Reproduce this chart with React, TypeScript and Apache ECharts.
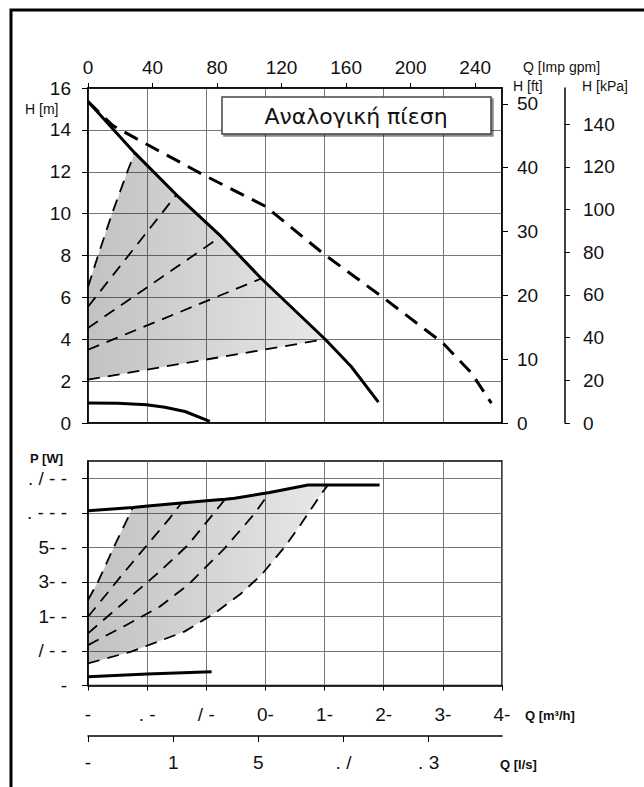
import React, { useEffect, useRef } from "react";
import * as echarts from "echarts";

const qMaxM3h = 70;
const hMaxM = 16;
const pMaxW = 1300;
const qMaxGpm = qMaxM3h * 3.6662;
const hMaxFt = hMaxM * 3.28084;
const hMaxKpa = hMaxM * 9.80665;
const qMaxLs = qMaxM3h / 3.6;

const hTicks = [0, 2, 4, 6, 8, 10, 12, 14, 16];
const gpmTicks = [0, 40, 80, 120, 160, 200, 240];
const ftTicks = [0, 10, 20, 30, 40, 50];
const kpaTicks = [0, 20, 40, 60, 80, 100, 120, 140];
const m3hTicks = [0, 10, 20, 30, 40, 50, 60, 70];
const m3hLabels = ["-", ". -", "/ -", "0-", "1-", "2-", "3-", "4-"];
const lsTicks = [0, 4, 8, 12, 16];
const lsLabels = ["-", "1", "5", ". /", ". 3"];
const pTicks = [0, 200, 400, 600, 800, 1000, 1200];
const pLabels = ["-", "/ - -", "1- -", "3- -", "5- -", ". - - -", ". / - -"];

// H(Q): [Q m3/h, H m]
const hMaxSolid = [
  [0, 15.35], [7.9, 12.9], [14.94, 10.9], [22.5, 8.91], [29.3, 6.9],
  [40.1, 4.0], [44.5, 2.7], [49.1, 1.0],
];
const hMaxDashed = [
  [0, 15.35], [4.2, 14.2], [10, 13.3], [20, 11.78], [30, 10.35], [40, 8.04],
  [50, 5.97], [60, 3.82], [64.8, 2.4], [68.2, 0.95],
];
const hMin = [
  [0, 0.95], [5, 0.94], [9.9, 0.87], [13, 0.75], [16.4, 0.55], [20.6, 0.08],
];
const hProp1 = [[0, 6.5], [1.7, 8.0], [4.06, 10.0], [6.65, 12.0], [7.9, 12.9]];
const hProp2 = [[0, 5.55], [14.94, 10.9]];
const hProp3 = [[0, 4.54], [22.5, 8.91]];
const hProp4 = [[0, 3.5], [29.3, 6.9]];
const hProp5 = [[0, 2.07], [40.1, 4.0]];

// P(Q): [Q m3/h, P W]
const pUpper = [
  [0, 1012], [7.6, 1031], [10.1, 1039], [15.8, 1057], [20, 1070], [23.2, 1079],
  [24.8, 1084], [29.9, 1113], [30.7, 1118], [37.2, 1161], [40.6, 1161], [49.3, 1161],
];
const pLower = [[0, 51], [10, 66], [20.9, 80]];
const pProp1 = [[0, 495], [1.7, 601], [4.4, 804], [7.6, 1031]];
const pProp2 = [[0, 398], [6.2, 659], [13.8, 968], [15.8, 1057]];
const pProp3 = [[0, 302], [5.9, 476], [12.1, 659], [16.9, 813], [23.2, 1079]];
const pProp4 = [[0, 234], [6.2, 345], [12.1, 456], [16.9, 582], [23.1, 794], [28.2, 997], [30.7, 1118]];
const pProp5 = [
  [0, 128], [7.3, 196], [16.3, 312], [21.4, 418], [25.9, 533], [29.3, 640],
  [33.3, 804], [36.1, 939], [39.5, 1113], [40.6, 1161],
];

const between = (arr: number[][], a: number, b: number) =>
  arr.filter((p) => p[0] >= a && p[0] <= b);

const polyTop = [
  ...hProp5,
  ...between(hMaxSolid, 7.9, 40.1).slice().reverse(),
  ...hProp1.slice().reverse(),
];
const polyBottom = [
  ...pProp5,
  ...between(pUpper, 7.6, 40.6).slice().reverse(),
  ...pProp1.slice().reverse(),
];

const FONT = "'Liberation Sans', Arial, sans-serif";
const GRID = "#777";

const fillGrad = () =>
  new echarts.graphic.LinearGradient(0, 0, 1, 0, [
    { offset: 0, color: "rgba(0,0,0,0.24)" },
    { offset: 1, color: "rgba(0,0,0,0.09)" },
  ]);

const lbl = (extra: any = {}) => ({
  fontFamily: FONT,
  fontSize: 19,
  color: "#111",
  ...extra,
});

const blackLine = (show = true) => ({
  show,
  onZero: false,
  lineStyle: { color: "#000", width: 1.5 },
});

function line(data: number[][], xi: number, yi: number, width: number, type: any) {
  return {
    type: "line", xAxisIndex: xi, yAxisIndex: yi, data,
    symbol: "none", showSymbol: false, silent: true, z: 5,
    lineStyle: { color: "#000", width, type },
  };
}

function poly(points: number[][], xi: number, yi: number) {
  return {
    type: "custom", xAxisIndex: xi, yAxisIndex: yi, data: [[0, 0]], silent: true, z: 1,
    renderItem: (_p: any, api: any) => ({
      type: "polygon",
      shape: { points: points.map((p) => api.coord(p)) },
      style: { fill: fillGrad(), stroke: "none" },
    }),
  };
}

const thinDash = [12, 8];
const thickDash = [15, 9];

const nameText = (text: string, x: number, y: number, bold = false) => ({
  type: "text", z: 101, silent: true, x, y,
  style: { text, fontFamily: FONT, fontSize: bold ? 13 : 14, fontWeight: bold ? "bold" : "normal", fill: "#111", align: "left", verticalAlign: "middle" },
});

export default function App() {
  const ref = useRef<HTMLDivElement>(null);
  useEffect(() => {
    if (!ref.current) return;
    const chart = echarts.init(ref.current, null, { renderer: "svg" });
    const option: any = {
      animation: false,
      backgroundColor: "#fff",
      grid: [
        { left: 88, top: 88, width: 414, height: 335, show: true, borderColor: "#000", borderWidth: 1.5, backgroundColor: "transparent" },
        { left: 88, top: 461, width: 414, height: 224.5, show: true, borderColor: "#000", borderWidth: 1.5, backgroundColor: "transparent" },
      ],
      xAxis: [
        {
          gridIndex: 0, type: "value", position: "bottom", min: 0, max: qMaxM3h, interval: 10,
          axisLine: blackLine(), axisTick: { show: false }, axisLabel: { show: false },
          splitLine: { show: true, lineStyle: { color: GRID, width: 1 } },
        },
        {
          gridIndex: 0, type: "value", position: "top", min: 0, max: qMaxGpm, interval: 40,
          axisLine: blackLine(),
          axisTick: { show: true, inside: false, length: 5, customValues: gpmTicks, lineStyle: { color: "#000" } },
          axisLabel: lbl({ margin: 11, customValues: gpmTicks, formatter: (v: number) => String(v) }),
          splitLine: { show: false },
        },
        {
          gridIndex: 1, type: "value", position: "bottom", min: 0, max: qMaxM3h, interval: 10,
          axisLine: blackLine(),
          axisTick: { show: true, inside: false, length: 5, lineStyle: { color: "#000" } },
          axisLabel: lbl({
            margin: 19,
            formatter: (v: number) => { const i = m3hTicks.indexOf(v); return i >= 0 ? m3hLabels[i] : ""; },
          }),
          splitLine: { show: true, lineStyle: { color: GRID, width: 1 } },
        },
        {
          gridIndex: 1, type: "value", position: "bottom", offset: 50.5, min: 0, max: qMaxLs, interval: 4,
          axisLine: blackLine(),
          axisTick: { show: true, inside: false, length: 6, customValues: lsTicks, lineStyle: { color: "#000" } },
          axisLabel: lbl({
            margin: 17, customValues: lsTicks,
            formatter: (v: number) => { const i = lsTicks.indexOf(v); return i >= 0 ? lsLabels[i] : ""; },
          }),
          splitLine: { show: false },
        },
      ],
      yAxis: [
        {
          gridIndex: 0, type: "value", position: "left", min: 0, max: hMaxM, interval: 2,
          axisLine: blackLine(),
          axisTick: { show: true, inside: false, length: 6, customValues: hTicks, lineStyle: { color: "#000" } },
          axisLabel: lbl({ margin: 17, customValues: hTicks, formatter: (v: number) => String(v) }),
          splitLine: { show: true, lineStyle: { color: GRID, width: 1 } },
        },
        {
          gridIndex: 0, type: "value", position: "right", min: 0, max: hMaxFt, interval: 10,
          axisLine: blackLine(),
          axisTick: { show: true, inside: false, length: 6, customValues: ftTicks, lineStyle: { color: "#000" } },
          axisLabel: lbl({ margin: 15, customValues: ftTicks }),
          splitLine: { show: false },
        },
        {
          gridIndex: 0, type: "value", position: "right", offset: 63, min: 0, max: hMaxKpa, interval: 20,
          axisLine: blackLine(),
          axisTick: { show: true, inside: false, length: 5, customValues: kpaTicks, lineStyle: { color: "#000" } },
          axisLabel: lbl({ margin: 18, customValues: kpaTicks }),
          splitLine: { show: false },
        },
        {
          gridIndex: 1, type: "value", position: "left", min: 0, max: pMaxW, interval: 200,
          axisLine: blackLine(),
          axisTick: { show: true, inside: false, length: 6, customValues: pTicks, lineStyle: { color: "#000" } },
          axisLabel: lbl({
            margin: 21, customValues: pTicks,
            formatter: (v: number) => { const i = pTicks.indexOf(v); return i >= 0 ? pLabels[i] : ""; },
          }),
          splitLine: { show: true, lineStyle: { color: GRID, width: 1 } },
        },
      ],
      series: [
        poly(polyTop, 0, 0),
        line(hProp1, 0, 0, 1.8, thinDash),
        line(hProp2, 0, 0, 1.8, thinDash),
        line(hProp3, 0, 0, 1.8, thinDash),
        line(hProp4, 0, 0, 1.8, thinDash),
        line(hProp5, 0, 0, 1.8, thinDash),
        line(hMaxDashed, 0, 0, 3, thickDash),
        line(hMaxSolid, 0, 0, 3, "solid"),
        line(hMin, 0, 0, 3, "solid"),
        poly(polyBottom, 2, 3),
        line(pProp1, 2, 3, 1.8, thinDash),
        line(pProp2, 2, 3, 1.8, thinDash),
        line(pProp3, 2, 3, 1.8, thinDash),
        line(pProp4, 2, 3, 1.8, thinDash),
        line(pProp5, 2, 3, 1.8, thinDash),
        line(pUpper, 2, 3, 3, "solid"),
        line(pLower, 2, 3, 3, "solid"),
      ],
      graphic: [
        { type: "rect", z: 100, silent: true, shape: { x: 11, y: 10, width: 720, height: 820 }, style: { fill: "none", stroke: "#000", lineWidth: 3 } },
        { type: "rect", z: 100, silent: true, shape: { x: 222, y: 97, width: 269, height: 37 }, style: { fill: "#fff", stroke: "#444", lineWidth: 1.5, shadowColor: "rgba(0,0,0,0.45)", shadowOffsetX: 2, shadowOffsetY: 2, shadowBlur: 1 } },
        { type: "text", z: 101, silent: true, x: 356, y: 116, style: { text: "Αναλογική πίεση", fontFamily: "'DejaVu Sans', sans-serif", fontSize: 22, fill: "#111", align: "center", verticalAlign: "middle" } },
        nameText("H [m]", 25, 109),
        nameText("Q [Imp gpm]", 523, 67),
        nameText("H [ft]", 513, 86),
        nameText("H [kPa]", 582, 86),
        nameText("P [W]", 30, 458, true),
        nameText("Q [m³/h]", 525, 715, true),
        nameText("Q [l/s]", 500, 764, true),
      ],
    };
    chart.setOption(option);
    return () => chart.dispose();
  }, []);
  return (
    <div
      ref={ref}
      style={{ position: "absolute", left: 0, top: 0, width: 644, height: 787, background: "#fff" }}
    />
  );
}
